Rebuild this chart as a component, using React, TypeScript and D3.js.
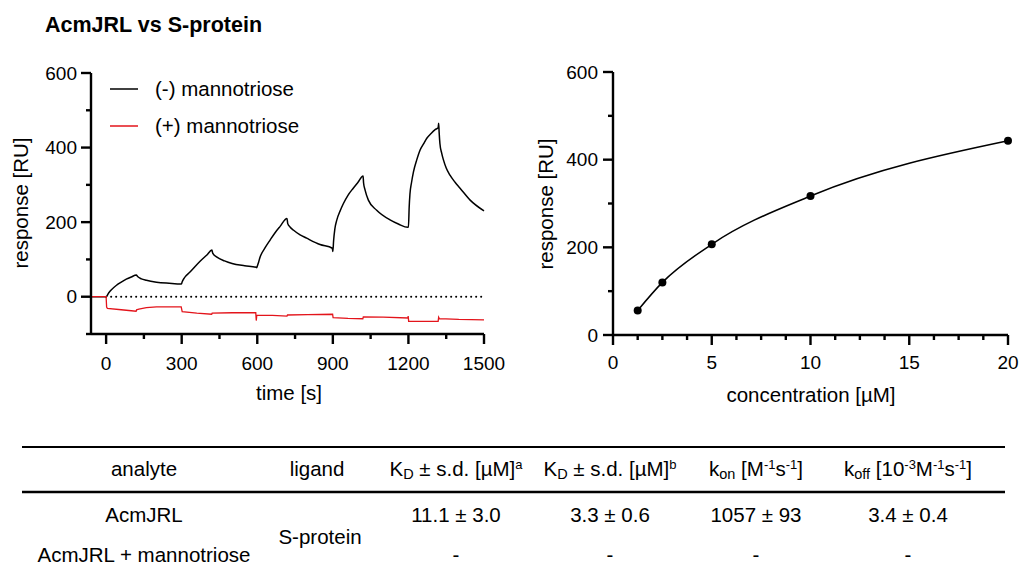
import * as d3 from 'd3';

// sensorgram, (-) mannotriose: time [s] / response [RU]
const blackT = [-60, 0, 10, 20, 40, 60, 80, 100, 120,
  125, 140, 160, 200, 250, 299,
  302, 310, 333, 373, 400, 420,
  423, 440, 470, 500, 550, 595, 598,
  600, 605, 611, 630, 651, 670, 690, 718,
  721, 730, 743, 770, 796, 849, 898, 900,
  903, 908, 915, 930, 942, 960, 981, 1000, 1020,
  1022, 1028, 1041, 1074, 1127, 1160, 1198, 1200,
  1203, 1206, 1212, 1220, 1233, 1246, 1260, 1273, 1290, 1306, 1318, 1320,
  1322, 1325, 1332, 1339, 1350, 1365, 1385, 1405, 1445, 1500];
const blackR = [0, 0, 10, 18, 30, 39, 47, 53, 58,
  54, 48, 44, 39, 36, 34,
  40, 50, 66, 95, 112, 125,
  117, 106, 96, 89, 83, 79, 78,
  82, 92, 106, 130, 152, 171, 188, 210,
  196, 187, 179, 166, 157, 140, 130, 121,
  150, 182, 204, 232, 250, 272, 291, 307, 324,
  305, 286, 259, 232, 206, 195, 186, 186,
  240, 275, 305, 335, 367, 393, 410, 425, 438, 448, 453, 465,
  440, 411, 385, 367, 345, 326, 307, 291, 259, 230];

// sensorgram, (+) mannotriose
const redT = [-60, 0, 2, 5, 60, 119, 121, 130, 160, 200, 298, 302, 360, 419, 421, 500, 594, 596, 598, 660,
  718, 720, 800, 899, 901, 960, 1019, 1021, 1100, 1198, 1199, 1201, 1260, 1318, 1320, 1323, 1400, 1500];
const redR = [0, 0, -28, -31, -35, -39, -35, -33, -29, -27, -27, -40, -44, -47, -44, -43, -43, -64, -50, -50,
  -52, -49, -48, -47, -56, -58, -59, -54, -55, -57, -52, -66, -66, -66, -55, -59, -61, -62];

// steady-state response vs concentration
const conc = [1.25, 2.5, 5, 10, 20];
const resp = [56, 120, 207, 317, 443];

const legendLabels = ['(-) mannotriose', '(+) mannotriose'];
const legendColors = ['#000000', '#e3141b'];

const tableCols = [144, 317, 456, 610, 756, 908];
const row1 = ['AcmJRL', '', '11.1 ± 3.0', '3.3 ± 0.6', '1057 ± 93', '3.4 ± 0.4'];
const row2 = ['AcmJRL + mannotriose', '', '-', '-', '-', '-'];
const ligand = 'S-protein';

const FONT = '"Liberation Sans", Arial, Helvetica, sans-serif';

export default function App() {
  // left panel scales
  const xL = d3.scaleLinear().domain([-60, 1500]).range([91, 484]);
  const yL = d3.scaleLinear().domain([-100, 600]).range([334, 73]);
  // right panel scales
  const xR = d3.scaleLinear().domain([0, 20]).range([613, 1008]);
  const yR = d3.scaleLinear().domain([0, 600]).range([335, 72]);

  const lineL = d3.line<number>().x((_, i) => xL(blackT[i])).y(d => yL(d)).curve(d3.curveMonotoneX);
  const lineRed = d3.line<number>().x((_, i) => xL(redT[i])).y(d => yL(d));
  const fit = d3.line<number>().x((_, i) => xR(conc[i])).y(d => yR(d)).curve(d3.curveMonotoneX);

  const axisStroke = 2.4;
  const tickFont = 19;
  const titleFont = 20.5;
  const sub = 14.5;
  const sup = 13;

  return (
    <svg width={1019} height={567} style={{ position: 'absolute', left: 0, top: 0, background: '#fff' }}
      fontFamily={FONT}>
      <text x={45} y={32} fontSize={21.5} fontWeight="bold">AcmJRL vs S-protein</text>

      {/* ---- left panel ---- */}
      <line x1={xL(0)} x2={xL(1500)} y1={yL(0)} y2={yL(0)} stroke="#000" strokeWidth={2}
        strokeDasharray="0.1 4.9" strokeLinecap="round" />
      <path d={lineL(blackR) || ''} fill="none" stroke="#000" strokeWidth={1.5} />
      <path d={lineRed(redR) || ''} fill="none" stroke="#e3141b" strokeWidth={1.3} />

      {/* y axis */}
      <line x1={91} x2={91} y1={yL(600)} y2={yL(-100)} stroke="#000" strokeWidth={axisStroke} />
      {d3.range(-100, 601, 100).map(v => (
        <line key={'ly' + v} x1={v % 200 === 0 ? 81 : 86} x2={91} y1={yL(v)} y2={yL(v)}
          stroke="#000" strokeWidth={axisStroke} />
      ))}
      {yL.ticks(3).filter(v => v >= 0).map(v => (
        <text key={'lyl' + v} x={77} y={yL(v)} dy="0.35em" textAnchor="end" fontSize={tickFont}>{v}</text>
      ))}
      {/* x axis */}
      <line x1={91} x2={xL(1500)} y1={334} y2={334} stroke="#000" strokeWidth={axisStroke} />
      {d3.range(0, 1501, 150).map(v => (
        <line key={'lx' + v} x1={xL(v)} x2={xL(v)} y1={334} y2={v % 300 === 0 ? 344 : 339}
          stroke="#000" strokeWidth={axisStroke} />
      ))}
      {d3.range(0, 1501, 300).map(v => (
        <text key={'lxl' + v} x={xL(v)} y={370} textAnchor="middle" fontSize={tickFont}>{v}</text>
      ))}
      <text x={289} y={400} textAnchor="middle" fontSize={titleFont}>time [s]</text>
      <text transform="translate(28,203) rotate(-90)" textAnchor="middle" fontSize={titleFont}>response [RU]</text>

      {/* legend */}
      {legendLabels.map((l, i) => (
        <g key={l} transform={`translate(0,${89 + i * 37})`}>
          <line x1={110} x2={138} y1={0} y2={0} stroke={legendColors[i]} strokeWidth={1.5} />
          <text x={155} y={0} dy="0.35em" fontSize={20.5}>{l}</text>
        </g>
      ))}

      {/* ---- right panel ---- */}
      <path d={fit(resp) || ''} fill="none" stroke="#000" strokeWidth={1.5} />
      {resp.map((r, i) => (
        <circle key={'pt' + i} cx={xR(conc[i])} cy={yR(r)} r={4} fill="#000" />
      ))}
      <line x1={613} x2={613} y1={yR(600)} y2={yR(0)} stroke="#000" strokeWidth={axisStroke} />
      {d3.range(0, 601, 100).map(v => (
        <line key={'ry' + v} x1={v % 200 === 0 ? 603 : 608} x2={613} y1={yR(v)} y2={yR(v)}
          stroke="#000" strokeWidth={axisStroke} />
      ))}
      {yR.ticks(3).map(v => (
        <text key={'ryl' + v} x={598} y={yR(v)} dy="0.35em" textAnchor="end" fontSize={tickFont}>{v}</text>
      ))}
      <line x1={613} x2={1008} y1={335} y2={335} stroke="#000" strokeWidth={axisStroke} />
      {d3.range(0, 20.01, 1.25).map(v => (
        <line key={'rx' + v} x1={xR(v)} x2={xR(v)} y1={335} y2={v % 5 === 0 ? 345 : 340}
          stroke="#000" strokeWidth={axisStroke} />
      ))}
      {xR.ticks(4).map(v => (
        <text key={'rxl' + v} x={xR(v)} y={369} textAnchor="middle" fontSize={tickFont}>{v}</text>
      ))}
      <text x={811} y={402} textAnchor="middle" fontSize={titleFont}>concentration [µM]</text>
      <text transform="translate(553,204) rotate(-90)" textAnchor="middle" fontSize={titleFont}>response [RU]</text>

      {/* ---- table ---- */}
      <line x1={22} x2={1005} y1={447} y2={447} stroke="#000" strokeWidth={2.2} />
      <line x1={22} x2={1005} y1={492} y2={492} stroke="#000" strokeWidth={2.6} />
      <g fontSize={20.5} textAnchor="middle">
        <text x={tableCols[0]} y={476}>analyte</text>
        <text x={tableCols[1]} y={476}>ligand</text>
        <text x={tableCols[2]} y={476}>K<tspan fontSize={sub} dy={3}>D</tspan><tspan dy={-3}> ± s.d. [µM]</tspan><tspan fontSize={sup} dy={-7}>a</tspan></text>
        <text x={tableCols[3]} y={476}>K<tspan fontSize={sub} dy={3}>D</tspan><tspan dy={-3}> ± s.d. [µM]</tspan><tspan fontSize={sup} dy={-7}>b</tspan></text>
        <text x={tableCols[4]} y={476}>k<tspan fontSize={sub} dy={3}>on</tspan><tspan dy={-3}> [M</tspan><tspan fontSize={sup} dy={-7}>-1</tspan><tspan dy={7}>s</tspan><tspan fontSize={sup} dy={-7}>-1</tspan><tspan dy={7}>]</tspan></text>
        <text x={tableCols[5]} y={476}>k<tspan fontSize={sub} dy={3}>off</tspan><tspan dy={-3}> [10</tspan><tspan fontSize={sup} dy={-7}>-3</tspan><tspan dy={7}>M</tspan><tspan fontSize={sup} dy={-7}>-1</tspan><tspan dy={7}>s</tspan><tspan fontSize={sup} dy={-7}>-1</tspan><tspan dy={7}>]</tspan></text>
        {row1.map((c, i) => c && <text key={'r1' + i} x={tableCols[i]} y={522}>{c}</text>)}
        <text x={tableCols[1] + 3} y={544}>{ligand}</text>
        {row2.map((c, i) => c && <text key={'r2' + i} x={tableCols[i]} y={562}>{c}</text>)}
      </g>
    </svg>
  );
}
